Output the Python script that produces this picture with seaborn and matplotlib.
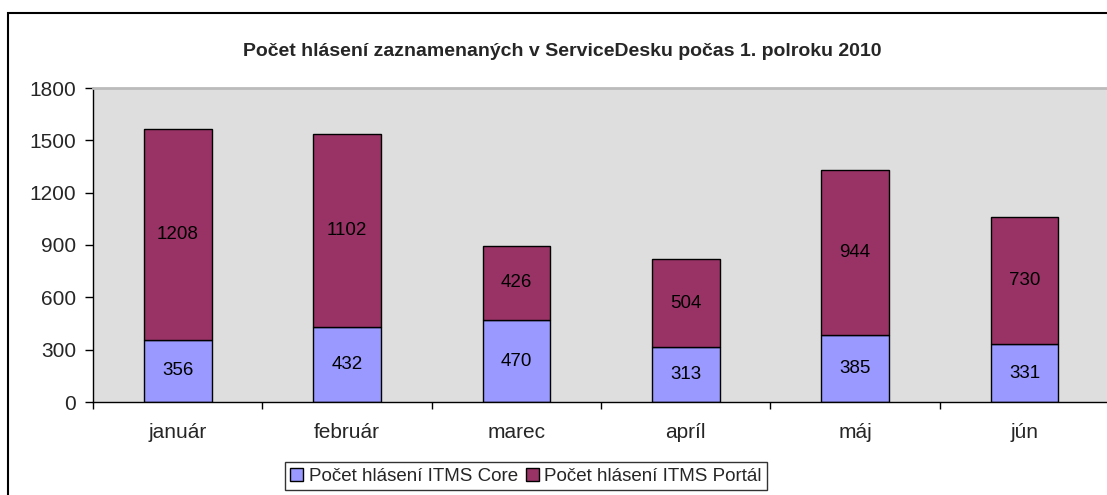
import numpy as np
import matplotlib
matplotlib.use("Agg")
import matplotlib.pyplot as plt
from matplotlib.patches import Rectangle, Patch
import seaborn as sns

# data
months = ["január", "február", "marec", "apríl", "máj", "jún"]
core = [356, 432, 470, 313, 385, 331]
portal = [1208, 1102, 426, 504, 944, 730]
series_names = ["Počet hlásení ITMS Core", "Počet hlásení ITMS Portál"]
title = "Počet hlásení zaznamenaných v ServiceDesku počas 1. polroku 2010"

core_color = "#9999FF"
portal_color = "#993366"

sns.set_style("white")
plt.rcParams["font.family"] = ["Liberation Sans", "DejaVu Sans"]

fig = plt.figure(figsize=(11.07, 4.95), dpi=100)
ax = fig.add_axes([93 / 1107, 1 - 402 / 495, 1 - 93 / 1107 + 0.002, (402 - 88) / 495])
ax.set_facecolor("#DEDEDE")

sns.barplot(x=months, y=core, color=core_color, edgecolor="black", linewidth=1,
            width=0.4, saturation=1, ax=ax)
sns.barplot(x=months, y=portal, bottom=core, color=portal_color, edgecolor="black",
            linewidth=1, width=0.4, saturation=1, ax=ax)

for cont in ax.containers:
    ax.bar_label(cont, label_type="center", fontsize=13.5, color="black")

ax.set_ylim(0, 1800)
ax.set_yticks(np.arange(0, 1801, 300))
ax.set_xlim(-0.5, 5.5)
ax.tick_params(axis="y", which="major", direction="out", length=6, width=1,
               pad=6, labelsize=15, left=True, color="black")
ax.tick_params(axis="x", which="major", length=0, pad=15, labelsize=15)
ax.set_xticks(np.arange(-0.5, 6, 1), minor=True)
ax.tick_params(axis="x", which="minor", direction="out", length=5, width=1,
               bottom=True, color="black")
ax.set_xlabel("")
ax.set_ylabel("")

for side in ["left", "bottom"]:
    ax.spines[side].set_color("black")
    ax.spines[side].set_linewidth(1)
ax.spines["top"].set_color("#BBBBBB")
ax.spines["top"].set_linewidth(2)
ax.spines["right"].set_visible(False)

fig.text(562 / 1107, 1 - 52 / 495, title, ha="center", va="center",
         fontsize=14, fontweight="bold")

# outer chart border
fig.patches.append(Rectangle((8 / 1107, -0.1), 1.2, 1 - 13 / 495 + 0.1,
                             transform=fig.transFigure, fill=False,
                             edgecolor="black", linewidth=1.5))

handles = [Patch(facecolor=core_color, edgecolor="black", linewidth=1),
           Patch(facecolor=portal_color, edgecolor="black", linewidth=1)]
leg = fig.legend(handles, series_names, loc="upper center",
                 bbox_to_anchor=(526 / 1107, 1 - 462 / 495), ncol=2,
                 fontsize=13.5, frameon=True, fancybox=False, edgecolor="black",
                 handlelength=0.7, handleheight=0.7, handletextpad=0.3,
                 columnspacing=0.4, borderpad=0.3, borderaxespad=0)
leg.get_frame().set_linewidth(1)

fig.savefig("out.png", dpi=100)
